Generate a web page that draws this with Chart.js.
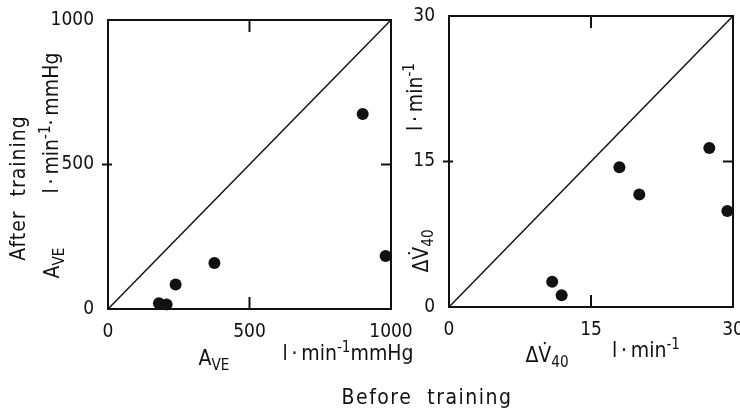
<!DOCTYPE html>
<html>
<head>
<meta charset="utf-8">
<script src="https://cdn.jsdelivr.net/npm/chart.js@4.4.1/dist/chart.umd.min.js"></script>
<style>
    body { margin: 0; background: #fff; width: 740px; height: 408px; overflow: hidden; position: relative;
           font-family: "DejaVu Sans Condensed", "DejaVu Sans", sans-serif; color: #111; }
    canvas { position: absolute; top: 0; }
    #aveChart { left: 0; }
    #dvChart { left: 400px; }
    .lbl { position: absolute; white-space: nowrap; font-size: 21px; line-height: 1; }
    .rot { transform: translate(-50%, -50%) rotate(-90deg); }
    .ctr { transform: translate(-50%, -50%); }
    sub, sup { font-size: 0.72em; line-height: 0; }
</style>
</head>
<body>
<canvas id="aveChart" width="430" height="408"></canvas>
<canvas id="dvChart" width="340" height="408"></canvas>

<div class="lbl rot" style="left:18px; top:188px; letter-spacing:1px;">After&nbsp; training</div>
<div class="lbl rot" style="left:52px; top:263px;">A<sub>VE</sub></div>
<div class="lbl rot" style="left:51px; top:123px;">l&thinsp;·&thinsp;min<sup>-1</sup>·&thinsp;mmHg</div>
<div class="lbl ctr" style="left:214px; top:358px;">A<sub>VE</sub></div>
<div class="lbl ctr" style="left:348px; top:353px;">l&thinsp;·&thinsp;min<sup>-1</sup>mmHg</div>
<div class="lbl ctr" style="left:427px; top:397px; letter-spacing:1.5px;">Before&nbsp; training</div>
<div class="lbl rot" style="left:421px; top:251px;">ΔV&#775;<sub>40</sub></div>
<div class="lbl rot" style="left:415px; top:97px;">l&thinsp;·&thinsp;min<sup>-1</sup></div>
<div class="lbl ctr" style="left:547px; top:355px;">ΔV&#775;<sub>40</sub></div>
<div class="lbl ctr" style="left:646px; top:350px;">l&thinsp;·&thinsp;min<sup>-1</sup></div>

<script>
// A_VE, before vs after training (l·min-1·mmHg)
const aveBefore = [180, 207, 239, 376, 900, 981];
const aveAfter = [20, 16, 85, 159, 675, 183];
const aveTicks = [0, 500, 1000];

// ΔV40, before vs after training (l·min-1)
const dvBefore = [10.9, 11.9, 18.0, 20.1, 27.5, 29.4];
const dvAfter = [2.6, 1.2, 14.4, 11.6, 16.4, 9.9];
const dvTicks = [0, 15, 30];

const tickFont = { family: '"DejaVu Sans Condensed", "DejaVu Sans", sans-serif', size: 19 };

// box around the plot plus the short mid ticks
const framePlugin = {
    id: 'frame',
    afterDraw(chart) {
        const { ctx, chartArea: a } = chart;
        const mx = (a.left + a.right) / 2;
        const my = (a.top + a.bottom) / 2;
        ctx.save();
        ctx.strokeStyle = '#111';
        ctx.lineWidth = 2;
        ctx.strokeRect(a.left, a.top, a.right - a.left, a.bottom - a.top);
        ctx.beginPath();
        ctx.moveTo(mx, a.top); ctx.lineTo(mx, a.top + 12);
        ctx.moveTo(mx, a.bottom); ctx.lineTo(mx, a.bottom - 12);
        ctx.moveTo(a.right, my); ctx.lineTo(a.right - 10, my);
        ctx.moveTo(a.left - 6, my); ctx.lineTo(a.left + 4, my);
        ctx.stroke();
        ctx.restore();
    }
};

function makeChart(id, xs, ys, ticks, yWidth, xHeight, padding) {
    const lo = ticks[0];
    const hi = ticks[ticks.length - 1];
    const setTicks = s => { s.ticks = ticks.map(v => ({ value: v })); };
    return new Chart(document.getElementById(id), {
        data: {
            datasets: [{
                type: 'line',
                data: [{ x: lo, y: lo }, { x: hi, y: hi }],
                borderColor: '#111',
                borderWidth: 1.5,
                pointRadius: 0
            }, {
                type: 'scatter',
                data: xs.map((x, i) => ({ x: x, y: ys[i] })),
                backgroundColor: '#111',
                borderWidth: 0,
                pointRadius: 6,
                clip: false
            }]
        },
        options: {
            responsive: false,
            animation: false,
            devicePixelRatio: 1,
            layout: { padding: padding },
            plugins: { legend: { display: false }, tooltip: { enabled: false } },
            scales: {
                x: {
                    type: 'linear', min: lo, max: hi,
                    afterBuildTicks: setTicks,
                    afterFit: s => { s.height = xHeight; s.paddingLeft = 0; s.paddingRight = 0; },
                    grid: { display: false },
                    border: { display: false },
                    ticks: { font: tickFont, color: '#111', padding: 4, maxRotation: 0, autoSkip: false,
                             callback: v => String(v) }
                },
                y: {
                    type: 'linear', min: lo, max: hi,
                    afterBuildTicks: setTicks,
                    afterFit: s => { s.width = yWidth; s.paddingTop = 0; s.paddingBottom = 0; },
                    grid: { display: false },
                    border: { display: false },
                    ticks: { font: tickFont, color: '#111', padding: 6, autoSkip: false,
                             callback: v => String(v) }
                }
            }
        },
        plugins: [framePlugin]
    });
}

makeChart('aveChart', aveBefore, aveAfter, aveTicks, 108, 99, { left: 0, top: 20, right: 39, bottom: 0 });
makeChart('dvChart', dvBefore, dvAfter, dvTicks, 49, 101, { left: 0, top: 16, right: 7, bottom: 0 });
</script>
</body>
</html>
